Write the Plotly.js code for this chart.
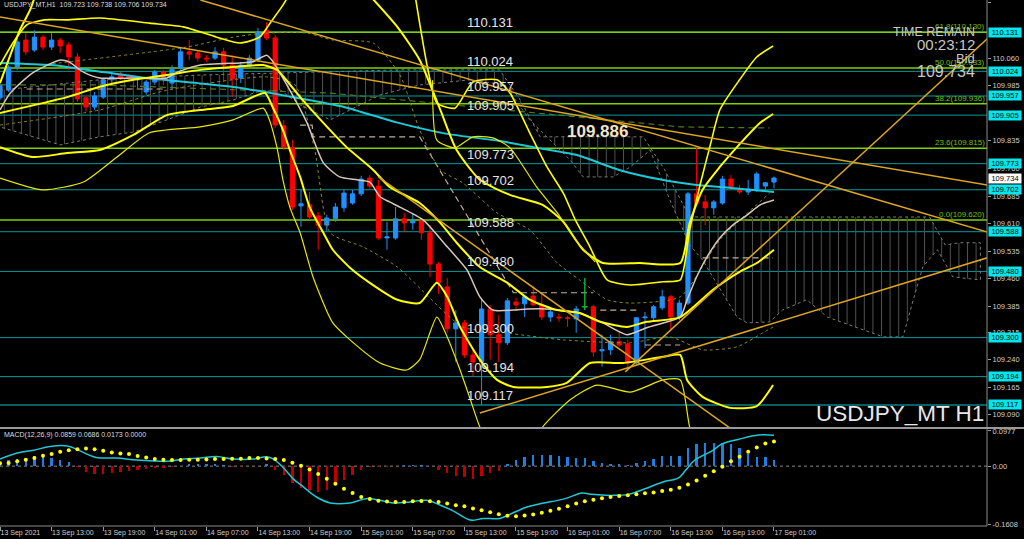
<!DOCTYPE html>
<html><head><meta charset="utf-8">
<script src="https://cdn.plot.ly/plotly-3.0.1.min.js"></script>
<style>html,body{margin:0;padding:0;background:#000;overflow:hidden}#chart{width:1024px;height:539px;}</style>
</head><body><div id="chart"></div>
<script>
// ---------- DATA ----------
// bar index = hours since 13 Sep 2021 07:00 (H1 bars)
const barCount = 91;
const barIdx = Array.from({length: barCount}, (_, i) => i);

const open  = [109.952,109.973,110.036,110.109,110.082,110.117,110.090,110.109,110.096,110.063,109.952,109.927,109.954,110.001,110.014,110.011,110.001,109.968,109.995,110.022,109.992,110.033,110.077,110.074,110.060,110.060,110.077,110.041,110.006,110.041,110.055,110.136,110.115,109.876,109.816,109.658,109.661,109.631,109.606,109.623,109.653,109.666,109.691,109.734,109.712,109.571,109.571,109.623,109.612,109.617,109.585,109.500,109.438,109.324,109.340,109.253,109.234,109.378,109.308,109.286,109.397,109.392,109.413,109.389,109.356,109.356,109.354,109.351,109.384,109.384,109.264,109.267,109.289,109.283,109.231,109.354,109.354,109.381,109.411,109.356,109.394,109.691,109.669,109.653,109.666,109.731,109.704,109.696,109.704,109.712,109.723];
const high  = [109.995,110.041,110.115,110.128,110.136,110.123,110.128,110.115,110.104,110.074,109.957,109.968,110.006,110.022,110.022,110.017,110.011,110.001,110.028,110.028,110.041,110.088,110.109,110.082,110.068,110.090,110.088,110.068,110.050,110.068,110.142,110.158,110.123,109.892,109.838,109.702,109.696,109.642,109.634,109.666,109.702,109.702,109.740,109.742,109.729,109.615,109.655,109.639,109.639,109.625,109.606,109.506,109.462,109.375,109.348,109.267,109.408,109.389,109.362,109.408,109.408,109.416,109.441,109.422,109.375,109.365,109.359,109.386,109.462,109.389,109.308,109.308,109.316,109.294,109.354,109.370,109.389,109.430,109.416,109.403,109.696,109.816,109.688,109.674,109.740,109.742,109.715,109.729,109.751,109.723,109.738];
const low   = [109.946,109.968,110.028,110.068,110.077,110.082,110.082,110.074,110.028,109.941,109.914,109.919,109.949,109.987,110.001,109.995,109.979,109.960,109.987,109.987,109.973,110.028,110.055,110.050,110.050,110.055,109.995,109.954,109.992,110.033,110.050,110.109,109.870,109.810,109.647,109.601,109.620,109.539,109.590,109.615,109.642,109.661,109.685,109.702,109.566,109.539,109.566,109.587,109.593,109.566,109.465,109.419,109.313,109.234,109.245,109.194,109.117,109.240,109.234,109.280,109.375,109.356,109.386,109.348,109.343,109.343,109.329,109.313,109.375,109.248,109.221,109.253,109.275,109.212,109.226,109.272,109.348,109.375,109.321,109.348,109.389,109.661,109.606,109.634,109.661,109.702,109.691,109.688,109.696,109.702,109.706];
const close = [109.987,110.036,110.104,110.077,110.117,110.090,110.109,110.093,110.063,109.949,109.927,109.957,110.001,110.009,110.006,110.006,110.006,109.995,110.022,110.001,110.030,110.077,110.071,110.060,110.058,110.077,110.041,110.003,110.041,110.060,110.131,110.115,109.878,109.818,109.655,109.664,109.628,109.606,109.625,109.655,109.693,109.691,109.731,109.712,109.571,109.574,109.623,109.612,109.617,109.585,109.500,109.449,109.324,109.340,109.253,109.234,109.378,109.308,109.286,109.400,109.389,109.411,109.389,109.356,109.370,109.354,109.353,109.378,109.384,109.261,109.267,109.289,109.280,109.231,109.354,109.356,109.384,109.411,109.356,109.394,109.691,109.666,109.653,109.669,109.731,109.710,109.696,109.704,109.745,109.721,109.734];

// moving averages (hour index, price)
const maCyanT = [0,6,12,17,23,28,34,40,46,52,58,62,67,72,77,81,85,90];
const maCyanP = [110.047,110.041,110.022,110.006,109.992,109.979,109.954,109.927,109.886,109.854,109.835,109.818,109.797,109.756,109.729,109.715,109.707,109.696];
const maWhiteT = [0,1.2,3.8,7,8,9.7,11.6,15.5,19.4,20.6,23.3,27.9,29.4,31,31.6,33.7,35.7,37.6,39.5,41.5,43,44.2,45.3,46.5,49.2,52,54.3,55.8,57.3,59.7,61.3,63.6,67.4,70.1,72.9,75.2,77.6,79.1,79.9,81,82.2,83.7,85.2,86.9,88.4,90];
const maWhiteP = [109.919,109.965,110.020,110.055,110.050,110.022,110.006,110.006,110.006,110.022,110.041,110.047,110.050,110.068,110.055,109.973,109.884,109.775,109.737,109.729,109.723,109.683,109.669,109.655,109.620,109.547,109.484,109.411,109.375,109.375,109.378,109.378,109.367,109.340,109.308,109.327,109.343,109.356,109.403,109.465,109.519,109.571,109.606,109.634,109.661,109.674];

// yellow band lines (null = the line runs outside the visible price range)
const bandMidT = [0,7.8,11.6,15.5,19.4,23.3,27.1,30.6,32.2,34.9,37.6,40.3,43.4,45.3,48.8,51.2,53.1,55.8,59,61.6,64.8,67.4,69.8,72.9,75.2,79.1,82.9,86,88,90];
const bandMidP = [109.911,109.954,109.982,110.001,110.014,110.028,110.036,110.041,110.028,109.954,109.884,109.818,109.756,109.710,109.666,109.612,109.558,109.492,109.449,109.403,109.375,109.367,109.343,109.329,109.343,109.356,109.430,109.479,109.503,109.539];
const bandUpT = [0,1.5,3.1,5.2,7.8,11.6,17.4,21.3,25.2,27.9,30.2,31.4,32.9,33.8,null,48.2,49.7,50.8,52.9,55.0,57.8,59.3,61.6,63.6,65.5,66.9,68.6,70.6,73.3,77.1,79.1,80.2,81.4,82.6,83.7,86.0,88.0,89.9];
const bandUpP = [110.041,110.101,110.150,110.164,110.164,110.169,110.155,110.145,110.117,110.101,110.117,110.155,110.204,110.240,null,110.240,110.036,109.938,109.924,109.995,110.001,109.965,109.857,109.764,109.693,109.620,109.547,109.457,109.443,109.452,109.457,109.593,109.715,109.824,109.919,110.001,110.063,110.093];
const bandUp2T = [0,1.2,2.3,3.5,4.1,null,43.0,46.2,48.8,51.2,53.1,55.8,59.3,63.1,65.5,67.8,70.1,74.4,79.1,80.2,81.7,83.7,85.7,88.4,89.9];
const bandUp2P = [109.992,110.068,110.136,110.191,110.230,null,110.230,110.145,110.055,109.919,109.810,109.729,109.688,109.661,109.615,109.539,109.503,109.503,109.503,109.612,109.702,109.764,109.818,109.884,109.908];
const bandStepT = [50.3,50.8,52.9,55.0,57.3,59.3,62.4,64.8,66.9,69.2];
const bandStepP = [110.000,109.837,109.816,109.846,109.843,109.816,109.710,109.639,109.566,109.506];
const bandLowT = [0,3.8,7.8,11.6,15.5,19.4,23.3,27.1,30.8,31.7,32.9,33.7,34.9,36.0,37.6,38.7,40.7,43.0,46.2,48.8,50.8,52.0,53.5,55.8,57.8,59.7,63.6,65.9,68.6,72.4,77.1,79.1,79.9,81.7,84.9,88.0,89.9];
const bandLowP = [109.818,109.791,109.802,109.810,109.851,109.905,109.919,109.930,109.965,109.927,109.865,109.810,109.737,109.655,109.585,109.539,109.490,109.449,109.403,109.394,109.449,109.411,109.329,109.240,109.185,109.166,109.166,109.177,109.231,109.231,109.248,109.253,109.185,109.139,109.109,109.114,109.171];
const bandLow2T = [0,5.0,9.7,13.6,17.4,23.3,27.1,30.6,31.2,32.2,32.9,33.7,34.9,36.4,38.7,40.7,44.2,47.3,48.8,50.8,52.0,53.5,54.7,55.8,56.5,null,62.6,63.1,66.3,69.4,73.3,77.1,79.1,80.2,80.8];
const bandLow2P = [109.734,109.702,109.723,109.791,109.857,109.873,109.892,109.924,109.900,109.818,109.729,109.655,109.585,109.465,109.340,109.294,109.231,109.212,109.240,109.356,109.302,109.212,109.131,109.057,109.030,null,109.030,109.057,109.131,109.171,109.152,109.185,109.185,109.057,109.030];

// dotted olive lines
const dotUpT = [4.7,21.7,27.1,31,35.7,38.7,43.4,46.5,48.8,51.2,53.8,57.8,61.6,64.8,67.4,70.6,73.3,79.1,83.7,89.5];
const dotUpP = [110.041,110.090,110.117,110.128,110.128,110.109,110.101,110.014,109.865,109.756,109.721,109.639,109.593,109.503,109.457,109.403,109.394,109.411,109.566,109.693];
const dotLowT = [0,11.6,19.4,31.0,34.3,36.6,38.4,42.2,46.2,53.8,57.8,65.5,73.3,77.9,81.7,85.7,88.7,89.9];
const dotLowP = [109.878,109.919,109.973,110.009,109.987,109.810,109.585,109.547,109.492,109.329,109.316,109.294,109.286,109.302,109.267,109.275,109.313,109.329];

// ichimoku cloud boundaries
const cloudTopT = [0,11.6,23.3,34.9,46.5,58.1,60.5,62.8,74.8,77.3,80.2,108.1,109.9,111.6,114.0];
const cloudTopP = [109.973,110.001,110.014,110.022,110.028,110.028,109.946,109.846,109.846,109.756,109.628,109.628,109.552,109.558,109.558];
const cloudBotT = [0,7.0,11.6,15.5,19.4,23.3,27.1,29.9,32.6,34.9,38.4,44.2,48.8,54.7,58.7,61.6,66.3,67.8,71.3,73.3,75.6,77.9,80.2,81.7,85.7,86.9,89.5,91.0,93.8,96.2,102.7,105.0,106.2,107.3,109.0,110.8,114.0];
const cloudBotP = [109.873,109.824,109.846,109.859,109.892,109.927,109.946,109.968,109.973,109.933,109.892,109.960,109.987,110.001,109.987,109.892,109.783,109.737,109.737,109.764,109.810,109.674,109.552,109.511,109.356,109.340,109.343,109.375,109.403,109.356,109.302,109.302,109.403,109.492,109.539,109.465,109.457];
// kijun (dashed beige) segments, null = gap
const kijunT = [3.1,19.2,null,34.9,36.3,36.4,48.8,59.7,69.0,null,69.8,74.4,null,75,79.1,null,81.7,89.9];
const kijunP = [109.976,109.976,null,109.878,109.878,109.846,109.846,109.422,109.422,null,109.375,109.375,null,109.280,109.280,null,109.517,109.517];
const chikouT = [0,11.6,38.4,79.1,89.5];
const chikouP = [109.987,109.987,109.965,109.873,109.870];

// trend lines (start/end)
const trendT = [[0,114.8],[23.3,114.8],[55.8,114.8],[72.7,114.9],[44.0,85.2]];
const trendP = [[110.172,109.715],[110.218,109.587],[109.095,109.517],[109.207,110.115],[109.737,109.049]];

// horizontal levels
const levelsTeal = [110.131,110.024,109.957,109.905,109.773,109.702,109.588,109.480,109.300,109.194,109.117];
const fibPct = ['61.8','50.0','38.2','23.6','0.0'];
const fibLevels = [110.130,110.033,109.936,109.815,109.620];
const bidPrice = 109.734;
const markPrice = 109.886;

// price axis ticks
const priceTicks = [110.210,110.060,109.985,109.835,109.760,109.685,109.610,109.535,109.460,109.385,109.315,109.240,109.165,109.090];

// time axis
const timeTicks = [0,6,12,18,24,30,36,42,48,54,60,66,72,78,84,90];
const timeLabels = ['13 Sep 2021','13 Sep 13:00','13 Sep 19:00','14 Sep 01:00','14 Sep 07:00','14 Sep 13:00','14 Sep 19:00','15 Sep 01:00','15 Sep 07:00','15 Sep 13:00','15 Sep 19:00','16 Sep 01:00','16 Sep 07:00','16 Sep 13:00','16 Sep 19:00','17 Sep 01:00'];

// MACD
const macdT = [0,1.9,3.9,5.8,7.8,8.9,10.1,11.2,13.6,15.5,17.4,19.4,21.3,23.3,25.2,27.1,29.5,31,31.8,32.9,34.1,35.3,36.8,38.4,40.7,42.6,44.2,45.7,47.7,49.6,51.2,52.7,54.7,56.2,58.1,59.5,61.1,62.6,65.7,67.7,68.8,71.1,73.1,75,77,78.9,79.7,80.8,82.8,83.9,85.9,88.2,90];
const macdV = [0.0197,0.0361,0.0444,0.0545,0.0563,0.0472,0.0334,0.0243,0.0224,0.0179,0.0151,0.0133,0.0197,0.0224,0.0270,0.0197,0.0197,0.0261,0.0197,-0.0032,-0.0353,-0.0582,-0.0857,-0.1022,-0.1022,-0.0903,-0.0949,-0.1022,-0.0994,-0.0949,-0.1086,-0.1242,-0.1499,-0.1453,-0.1453,-0.1316,-0.1150,-0.1059,-0.0903,-0.0748,-0.0784,-0.0812,-0.0784,-0.0628,-0.0445,-0.0326,-0.0124,0.0170,0.0426,0.0610,0.0747,0.0866,0.0859];
const signal = [0.008,0.0087,0.0133,0.0179,0.0225,0.0289,0.0335,0.0399,0.0445,0.0472,0.0490,0.0472,0.0426,0.0381,0.0353,0.0335,0.0280,0.0243,0.0197,0.0179,0.0170,0.0170,0.0179,0.0179,0.0188,0.0197,0.0197,0.0206,0.0206,0.0225,0.0225,0.0215,0.0197,0.0170,0.0096,0.0014,-0.0096,-0.0215,-0.0353,-0.0490,-0.0628,-0.0747,-0.0857,-0.0912,-0.0958,-0.0985,-0.0995,-0.0995,-0.0976,-0.0967,-0.0976,-0.0995,-0.1040,-0.1086,-0.1114,-0.1178,-0.1224,-0.1279,-0.1334,-0.1380,-0.1389,-0.1371,-0.1343,-0.1297,-0.1242,-0.1187,-0.1114,-0.1040,-0.0976,-0.0931,-0.0894,-0.0857,-0.0830,-0.0811,-0.0784,-0.0756,-0.0729,-0.0692,-0.0655,-0.0600,-0.0509,-0.0399,-0.0270,-0.0142,-0.0014,0.0133,0.0261,0.0399,0.0518,0.0628,0.0686];
const hist = [0.0119,0.0165,0.0211,0.0238,0.0275,0.0303,0.0238,0.0183,0.0119,-0.0037,-0.0156,-0.0220,-0.0220,-0.0202,-0.0174,-0.0138,-0.0110,-0.0092,-0.0064,-0.0046,-0.0018,0.0,0.0055,0.0055,0.0073,0.0055,0.0018,-0.0018,-0.0018,0.0,0.0009,0.0055,-0.0110,-0.0248,-0.0477,-0.0614,-0.0660,-0.0706,-0.0660,-0.0523,-0.0385,-0.0248,-0.0110,-0.0037,-0.0018,-0.0018,0.0,0.0018,0.0028,0.0028,0.0,-0.0110,-0.0202,-0.0275,-0.0312,-0.0367,-0.0266,-0.0202,-0.0128,0.0050,0.0165,0.0257,0.0303,0.0303,0.0303,0.0275,0.0257,0.0238,0.0238,0.0147,0.0092,0.0073,0.0046,0.0018,0.0092,0.0147,0.0211,0.0275,0.0275,0.0275,0.0504,0.0605,0.0642,0.0642,0.0642,0.0605,0.0513,0.0348,0.0257,0.0257,0.0173];
const macdTicks = [0.0977,0.0,-0.1608];
const macdTickText = ['0.0977','0.00','-0.1608'];
const macdLegend = [0.0859, 0.0686, 0.0173, 0.0];

// ---------- CHART ----------
const FONT = 'Liberation Sans, Arial, sans-serif';
const traces = [];

// cloud
traces.push({type:'scatter', mode:'lines', x: cloudTopT.concat(cloudBotT.slice().reverse()),
  y: cloudTopP.concat(cloudBotP.slice().reverse()), fill:'toself', fillcolor:'rgba(0,0,0,0)',
  fillpattern:{shape:'|', fgcolor:'#4e4e4e', bgcolor:'rgba(0,0,0,0)', size:8.6, solidity:0.12},
  line:{color:'#7a7a7a', width:1, dash:'dot'}, hoverinfo:'skip', xaxis:'x', yaxis:'y'});

function line(t, p, color, width, dash, shape) {
  traces.push({type:'scatter', mode:'lines', x:t, y:p, line:{color:color, width:width, dash:dash||'solid', shape:shape||'linear', smoothing:0.6},
    connectgaps:false, hoverinfo:'skip', xaxis:'x', yaxis:'y'});
}
line(kijunT, kijunP, '#bfae98', 1.2, '6px,4px');
line(chikouT, chikouP, '#4c7a1c', 1.2, '6px,4px');
line(dotUpT, dotUpP, '#8a8a1a', 1, 'dot', 'spline');
line(dotLowT, dotLowP, '#8a8a1a', 1, 'dot', 'spline');

// candles
traces.push({type:'candlestick', x:barIdx, open:open, high:high, low:low, close:close,
  increasing:{line:{color:'#1e90ff', width:1}, fillcolor:'#1e90ff'},
  decreasing:{line:{color:'#ff0000', width:1}, fillcolor:'#ff0000'},
  whiskerwidth:0, hoverinfo:'skip', xaxis:'x', yaxis:'y'});
// doji bars drawn in green
const dx = [], dy = [];
barIdx.forEach(i => { if (open[i] === close[i]) { dx.push(i, i, null, i-0.35, i+0.35, null); dy.push(low[i], high[i], null, open[i], open[i], null); } });
traces.push({type:'scatter', mode:'lines', x:dx, y:dy, line:{color:'#00c000', width:1}, hoverinfo:'skip', xaxis:'x', yaxis:'y'});

// MAs
line(maCyanT, maCyanP, '#1ec8d6', 2, 'solid', 'spline');
line(maWhiteT, maWhiteP, '#d8c8bc', 1.5, 'solid', 'spline');

// bands
line(bandMidT, bandMidP, '#ffff00', 2, 'solid', 'spline');
line(bandUpT, bandUpP, '#ffff00', 1.6, 'solid', 'spline');
line(bandUp2T, bandUp2P, '#ffff00', 2, 'solid', 'spline');
line(bandStepT, bandStepP, '#e8e800', 1.2, 'solid', 'spline');
line(bandLowT, bandLowP, '#ffff00', 2, 'solid', 'spline');
line(bandLow2T, bandLow2P, '#e8e800', 1.2, 'solid', 'spline');

// trend lines
trendT.forEach((t, k) => line(t, trendP[k], '#dba520', 1.5));

// MACD panel
traces.push({type:'bar', x:barIdx, y:hist, width:0.28, marker:{color:hist.map(v => v >= 0 ? '#1e7fe0' : '#c00000')},
  hoverinfo:'skip', xaxis:'x', yaxis:'y2'});
traces.push({type:'scatter', mode:'lines', x:macdT, y:macdV, line:{color:'#1ec8d6', width:1.5, shape:'spline'}, hoverinfo:'skip', xaxis:'x', yaxis:'y2'});
traces.push({type:'scatter', mode:'markers', x:barIdx, y:signal, marker:{color:'#ffff00', size:4}, hoverinfo:'skip', xaxis:'x', yaxis:'y2'});

// shapes
const shapes = [];
levelsTeal.forEach((v, k) => shapes.push({type:'line', xref:'paper', x0:0, x1:1, yref:'y', y0:v, y1:v, layer:'below',
  line:{color: k === levelsTeal.length-1 ? '#006262' : '#009a9a', width: k === levelsTeal.length-1 ? 2 : 1}}));
fibLevels.forEach(v => shapes.push({type:'line', xref:'paper', x0:0, x1:1, yref:'y', y0:v, y1:v, layer:'below', line:{color:'#7fd000', width:1.5}}));
shapes.push({type:'line', xref:'paper', x0:0, x1:1, yref:'y2', y0:0, y1:0, layer:'below', line:{color:'#8a8a8a', width:1, dash:'dot'}});
// frame
shapes.push({type:'line', xref:'paper', x0:1, x1:1, yref:'paper', y0:0, y1:1, line:{color:'#8c8c8c', width:1}});
shapes.push({type:'line', xref:'paper', x0:0, x1:1.05, yref:'paper', y0:0.1865, y1:0.1865, line:{color:'#9a9a9a', width:2}});
shapes.push({type:'line', xref:'paper', x0:0, x1:1, yref:'paper', y0:0, y1:0, line:{color:'#8c8c8c', width:1}});

// annotations
const ann = [];
const txt = (o) => ann.push(Object.assign({showarrow:false, font:{family:FONT, size:13, color:'#e6e6e6'}}, o));
levelsTeal.forEach(v => txt({xref:'paper', x:0.4965, xanchor:'center', yref:'y', y:v, yanchor:'bottom', yshift:0, text:v.toFixed(3)}));
fibLevels.forEach((v, k) => txt({xref:'paper', x:1, xanchor:'right', yref:'y', y:v, yanchor:'bottom', yshift:-1,
  text:fibPct[k] + '(' + v.toFixed(3) + ')', font:{family:FONT, size:8, color:'#70c000'}}));
levelsTeal.forEach(v => txt({xref:'paper', x:1, xanchor:'left', xshift:1, yref:'y', y:v, text:v.toFixed(3), bgcolor:'#00e6ee',
  width:32, height:9, borderpad:0, font:{family:FONT, size:7.5, color:'#000'}}));
txt({xref:'paper', x:1, xanchor:'left', xshift:1, yref:'y', y:bidPrice, text:bidPrice.toFixed(3), bgcolor:'#ffffff',
  width:32, height:9, borderpad:0, font:{family:FONT, size:7.5, color:'#000'}});
txt({xref:'x', x:69.5, xanchor:'center', yref:'y', y:markPrice, yshift:-9, text:'<b>' + markPrice.toFixed(3) + '</b>', font:{family:FONT, size:17, color:'#f4e2c6'}});
txt({xref:'paper', x:0.99, xanchor:'right', yref:'y', y:110.131, text:'TIME REMAIN', font:{family:FONT, size:12.5, color:'#c8c8c8'}});
txt({xref:'paper', x:0.99, xanchor:'right', yref:'y', y:110.097, text:'00:23:12', font:{family:FONT, size:15, color:'#c8c8c8'}});
txt({xref:'paper', x:0.99, xanchor:'right', yref:'y', y:110.058, text:'Bid', font:{family:FONT, size:13, color:'#c8c8c8'}});
txt({xref:'paper', x:0.99, xanchor:'right', yref:'y', y:110.023, text:bidPrice.toFixed(3), font:{family:FONT, size:16, color:'#c8c8c8'}});
txt({xref:'paper', x:0.999, xanchor:'right', yref:'y', y:109.095, text:'USDJPY_MT H1', font:{family:FONT, size:22.5, color:'#e8e8e8'}});
txt({xref:'paper', x:0.002, xanchor:'left', yref:'paper', y:1, yanchor:'top', yshift:1,
  text:'USDJPY_MT,H1  ' + [open[90], high[90], low[90], close[90]].map(v => v.toFixed(3)).join(' '), font:{family:FONT, size:7, color:'#dddddd'}});
txt({xref:'paper', x:0.002, xanchor:'left', yref:'paper', y:0.1835, yanchor:'top',
  text:'MACD(12,26,9) ' + macdLegend.map(v => v.toFixed(4)).join(' '), font:{family:FONT, size:7, color:'#dddddd'}});

const layout = {
  width:1024, height:539, paper_bgcolor:'#000', plot_bgcolor:'#000', showlegend:false,
  margin:{l:0, r:37, t:0, b:13},
  xaxis:{range:[0, 114.77], anchor:'y2', rangeslider:{visible:false}, showgrid:false, zeroline:false,
    tickmode:'array', tickvals:timeTicks, ticktext:timeLabels, ticks:'outside', ticklen:4, tickcolor:'#999',
    ticklabelposition:'outside right', tickfont:{family:FONT, size:7, color:'#cfcfcf'}, showline:false},
  yaxis:{domain:[0.1882, 1], range:[109.057, 110.218], side:'right', anchor:'x', showgrid:false, zeroline:false,
    tickmode:'array', tickvals:priceTicks, ticktext:priceTicks.map(v => v.toFixed(3)), ticks:'outside', ticklen:3,
    tickcolor:'#999', tickfont:{family:FONT, size:7.5, color:'#cfcfcf'}},
  yaxis2:{domain:[0, 0.1844], range:[-0.1663, 0.1032], side:'right', anchor:'x', showgrid:false, zeroline:false,
    tickmode:'array', tickvals:macdTicks, ticktext:macdTickText, ticks:'outside', ticklen:3, tickcolor:'#999',
    tickfont:{family:FONT, size:7.5, color:'#cfcfcf'}},
  bargap:0, shapes:shapes, annotations:ann
};
Plotly.newPlot('chart', traces, layout, {staticPlot:true, displayModeBar:false});
</script>
</body></html>
